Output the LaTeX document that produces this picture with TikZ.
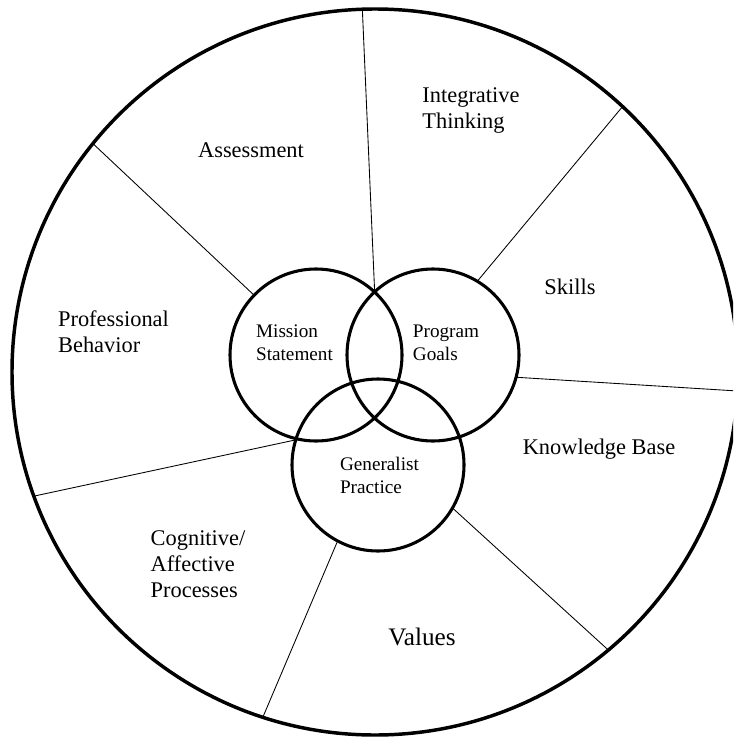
\documentclass[tikz,border=0pt]{standalone}
\usepackage{fontspec}
\setmainfont{Liberation Serif}

\begin{document}
\begin{tikzpicture}[x=0.75pt,y=0.75pt,yscale=-1,xscale=1,
  ring/.style={draw, circle, outer sep=0pt, line width=2.3pt, minimum size=129pt},
  spoke/.style={line width=0.65pt},
  outer text/.style={font=\fontsize{16.8}{19.5}\selectfont, align=left},
  inner text/.style={font=\fontsize{14.4}{17.25}\selectfont, align=left}]
\clip (0,0) rectangle (733,738);

%Shape: Circle [id:wheel]
\node [draw, circle, outer sep=0pt, line width=2.6pt, minimum size=544.5pt] (wheel) at (375,372) {};
%Shape: Circle [id:mission]
\node [ring] (mission) at (316,355) {};
%Shape: Circle [id:program]
\node [ring] (program) at (433,355) {};
%Shape: Circle [id:generalist]
\node [ring] (generalist) at (378,465) {};

%Straight Lines [id:spokes]
\draw [spoke] (wheel.92) -- (mission.47) ;
\draw [spoke] (wheel.47) -- (program.59) ;
\draw [spoke] (wheel.357) -- (program.345) ;
\draw [spoke] (wheel.310) -- (generalist.330) ;
\draw [spoke] (wheel.252) -- (generalist.242) ;
\draw [spoke] (wheel.200) -- (generalist.163) ;
\draw [spoke] (wheel.141) -- (mission.136) ;

% Text Node
\node [outer text] (assessment) at (251,150) {Assessment};
% Text Node
\node [outer text] (integrative) at (471,111) {Integrative\\Thinking};
% Text Node
\node [outer text] (skills) at (570,287) {Skills};
% Text Node
\node [outer text] (knowledge) at (599,449) {Knowledge Base};
% Text Node
\node [outer text, font=\fontsize{18.9}{22}\selectfont] (values) at (422,637) {Values};
% Text Node
\node [outer text] (cognitive) at (198,564) {Cognitive/\\Affective\\Processes};
% Text Node
\node [outer text] (professional) at (113.5,332) {Professional\\Behavior};
% Text Node
\node [inner text] (missiontext) at (294.5,343) {Mission\\Statement};
% Text Node
\node [inner text] (programtext) at (446,343) {Program\\Goals};
% Text Node
\node [inner text] (generalisttext) at (379.5,475) {Generalist\\Practice};

\end{tikzpicture}
\end{document}
